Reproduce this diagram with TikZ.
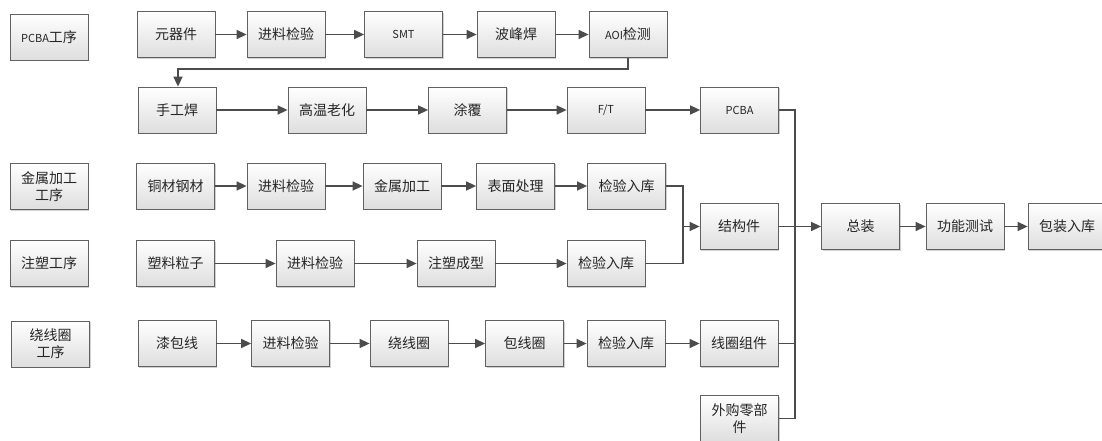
\documentclass[tikz,border=0pt]{standalone}
\usepackage{fontspec}
\setmainfont{Noto Sans CJK SC}
\usetikzlibrary{arrows.meta,shadows,calc}
\tikzset{
  box/.style={draw=black!62, line width=0.8pt, top color=white, bottom color=black!13,
    minimum width=78pt, minimum height=46pt, inner sep=1pt, align=center,
    font=\fontsize{14}{17}\selectfont, text=black!85,
    drop shadow={shadow xshift=1.2pt, shadow yshift=-1.2pt, opacity=0.3, fill=black!60}},
  lat/.style={font=\fontsize{11}{13}\selectfont},
  arr/.style={draw=black!70, line width=1.5pt, -{Triangle[length=10pt,width=9pt]}},
  ln/.style={draw=black!70, line width=1.5pt}
}
\begin{document}
\begin{tikzpicture}[x=1pt,y=-1pt]
\path[use as bounding box, clip] (0,0) rectangle (1102,441);
\fill[white] (0,0) rectangle (1102,441);
% process labels
\node[box] (p0) at (49,37) {{\fontsize{11}{13}\selectfont PCBA}工序};
\node[box] (p1) at (49,186.5) {金属加工\\工序};
\node[box] (p2) at (49,263.5) {注塑工序};
\node[box] (p3) at (50.5,344) {绕线圈\\工序};
% row 1
\node[box] (a1) at (176,34.5) {元器件};
\node[box] (a2) at (286,34.5) {进料检验};
\node[box,lat] (a3) at (403.5,34.5) {SMT};
\node[box] (a4) at (516,34.5) {波峰焊};
\node[box] (a5) at (628,34.5) {{\fontsize{11}{13}\selectfont AOI}检测};
% row 2
\node[box] (b1) at (177,110) {手工焊};
\node[box] (b2) at (327,110) {高温老化};
\node[box] (b3) at (467.5,110) {涂覆};
\node[box,lat] (b4) at (606,110) {F/T};
\node[box,lat] (b5) at (739.5,110) {PCBA};
% row 3
\node[box] (c1) at (175.5,186) {铜材钢材};
\node[box] (c2) at (286,186) {进料检验};
\node[box] (c3) at (402,186) {金属加工};
\node[box] (c4) at (515.5,186) {表面处理};
\node[box] (c5) at (626.5,186) {检验入库};
\node[box] (s) at (739,226.5) {结构件};
% row 4
\node[box] (d1) at (175.5,263.5) {塑料粒子};
\node[box] (d2) at (315,263.5) {进料检验};
\node[box] (d3) at (456,263.5) {注塑成型};
\node[box] (d4) at (606,263.5) {检验入库};
% row 5
\node[box] (e1) at (177,343.5) {漆包线};
\node[box] (e2) at (290.5,343.5) {进料检验};
\node[box] (e3) at (409,343.5) {绕线圈};
\node[box] (e4) at (524.5,343.5) {包线圈};
\node[box] (e5) at (626,343.5) {检验入库};
\node[box] (e6) at (739,343.5) {线圈组件};
\node[box] (w) at (739.5,418.5) {外购零部\\件};
% final
\node[box] (z) at (860.5,226.5) {总装};
\node[box] (f) at (965,226.5) {功能测试};
\node[box] (g) at (1067,226.5) {包装入库};
% connectors row 1
\draw[arr] (a1) -- (a2);
\draw[arr] (a2) -- (a3);
\draw[arr] (a3) -- (a4);
\draw[arr] (a4) -- (a5);
\coordinate (t1) at ($(a5.south)+(0,11)$);
\draw[arr] (a5.south) -- (t1) -| ($(b1.north)+(1,0)$);
% row 2
\draw[arr] (b1) -- (b2);
\draw[arr] (b2) -- (b3);
\draw[arr] (b3) -- (b4);
\draw[arr] (b4) -- (b5);
% row 3
\draw[arr] (c1) -- (c2);
\draw[arr] (c2) -- (c3);
\draw[arr] (c3) -- (c4);
\draw[arr] (c4) -- (c5);
\coordinate (j1) at (683,226.5);
\draw[ln] (c5.east) -| (j1);
\draw[ln] (d4.east) -| (j1);
\draw[arr] (j1) -- (s.west);
% row 4
\draw[arr] (d1) -- (d2);
\draw[arr] (d2) -- (d3);
\draw[arr] (d3) -- (d4);
% row 5
\draw[arr] (e1) -- (e2);
\draw[arr] (e2) -- (e3);
\draw[arr] (e3) -- (e4);
\draw[arr] (e4) -- (e5);
\draw[arr] (e5) -- (e6);
% bus
\coordinate (bus) at (795,226.5);
\draw[ln] (b5.east) -| (bus);
\draw[ln] (e6.east) -| (bus);
\draw[ln] (w.east) -| (bus);
\draw[arr] (s.east) -- (z.west);
\draw[arr] (z) -- (f);
\draw[arr] (f) -- (g);
\end{tikzpicture}
\end{document}
